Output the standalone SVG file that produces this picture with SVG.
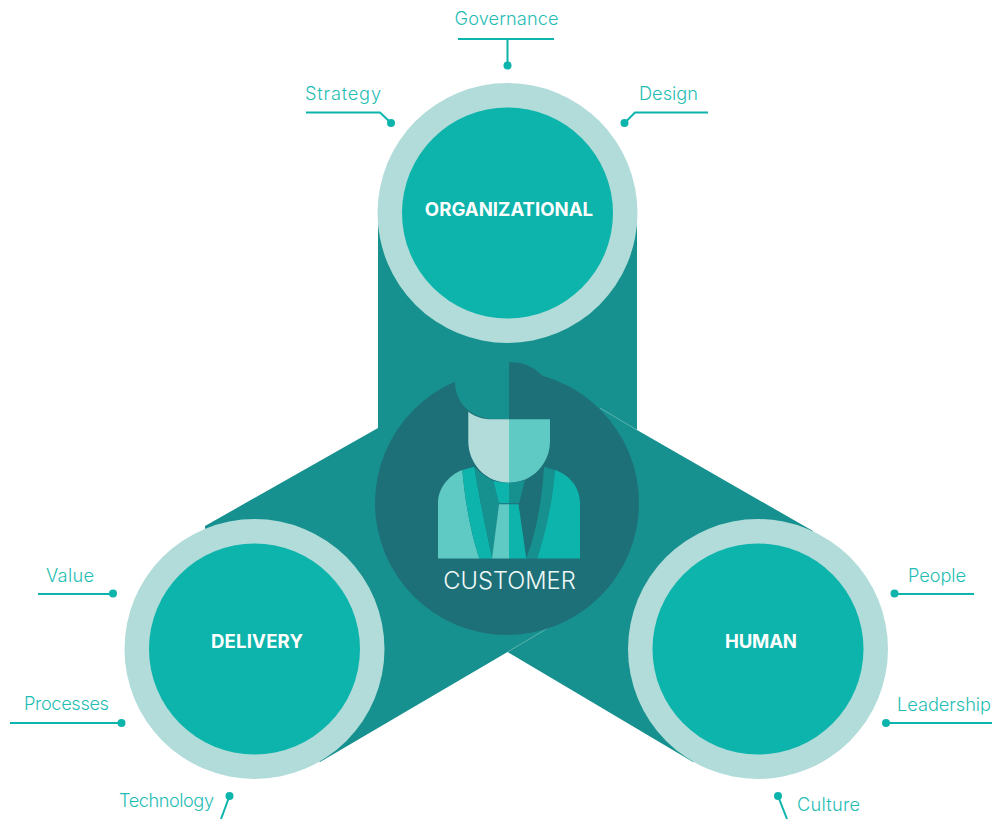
<svg xmlns="http://www.w3.org/2000/svg" width="992" height="819" viewBox="0 0 992 819">
<style>
.lbl{font-family:"Inter","Liberation Sans",sans-serif;font-weight:300;font-size:18.2px;fill:#1fbdb4;text-anchor:middle}
.hd{font-family:"Inter","Liberation Sans",sans-serif;font-weight:700;font-size:18.6px;fill:#fff;text-anchor:middle}
.cust{font-family:"Inter","Liberation Sans",sans-serif;font-weight:300;font-size:23.7px;fill:#eef8f7;text-anchor:middle}
.ln{fill:none;stroke:#0db4ac;stroke-width:2}
.dot{fill:#0db4ac}
.ring{fill:#b1dcd9}
.core{fill:#0db4ac}
</style>
<rect width="992" height="819" fill="#fff"/>
<g id="backdrop">
<path d="M378 213H637V430L813 531 823 640 693 762 507.500 652 320 762 210 640 205 526 378 428Z" fill="#16918f"/>
<path d="M600 408L637 430M507.500 652L548 628" stroke="#8cc8c6" stroke-width=".6" fill="none"/>
</g>
<g id="customer">
<circle cx="507" cy="503" r="132" fill="#1e7078"/>
<path d="M509 362.300A42 42 0 0 1 541.700 375Q550 383 550 392V419.300H509Z" fill="#1e7078"/>
<path d="M509 362V419.300H497C470 419.300 455 402 455 381.700V362Z" fill="#16918f"/>
<path d="M468.300 411.700C475 416.500 482 419.300 492 419.300H509V482.700C486 482.700 468.300 464 468.300 441Z" fill="#b1dcd9"/>
<path d="M509 419.300H550V441C550 464 532 482.700 509 482.700Z" fill="#5fc9c3"/>
<path d="M462.300 470C449 475 438 488 438 503V558.500H479.300C470 530 465 500 462.300 470Z" fill="#5fc9c3"/>
<path d="M462.300 470L474.300 466.700C478 490 485 525 492.300 558.500H479.300C470 530 465 500 462.300 470Z" fill="#0db4ac"/>
<path d="M474.300 466.700C480 473 486 477 493.300 480.700L499 503.300 492.300 558.500C485 525 478 490 474.300 466.700Z" fill="#16918f"/>
<path d="M493.300 480.700C498 482 503 482.700 509 482.700V503.300H499Z" fill="#0db4ac"/>
<path d="M509 482.700C514 482.700 520 482 525 480L519 503.300H509Z" fill="#16918f"/>
<path d="M499 504.300H509V558.500H492Z" fill="#5fc9c3"/>
<path d="M509 504.300H518.500L526.300 558.500H509Z" fill="#0db4ac"/>
<path d="M544 466.700L555 470C552 505 546 530 537.300 558.500H526.300C537 530 542 500 544 466.700Z" fill="#16918f"/>
<path d="M555 470C570 475 580 488 580 503V558.500H537.300C546 530 552 505 555 470Z" fill="#0db4ac"/>
<text class="cust" x="509.500" y="589">CUSTOMER</text>
</g>
<g id="organizational">
<circle class="ring" cx="507.500" cy="213" r="130"/>
<circle class="core" cx="507.500" cy="213" r="105.500"/>
<text class="hd" x="509" y="216">ORGANIZATIONAL</text>
</g>
<g id="delivery">
<circle class="ring" cx="254.500" cy="649" r="130"/>
<circle class="core" cx="254.500" cy="649" r="105.500"/>
<text class="hd" x="257" y="648" textLength="92">DELIVERY</text>
</g>
<g id="human">
<circle class="ring" cx="758" cy="649" r="130"/>
<circle class="core" cx="758" cy="649" r="105.500"/>
<text class="hd" x="761" y="648" textLength="72">HUMAN</text>
</g>
<g id="connectors">
<path class="ln" d="M458 39H554M507.500 39V65"/>
<path class="ln" d="M306 112.500H380L391 123"/>
<path class="ln" d="M708 112.500H635L624.500 123"/>
<path class="ln" d="M38 594H113"/>
<path class="ln" d="M10 723H121.500"/>
<path class="ln" d="M221 819L229.500 796"/>
<path class="ln" d="M974 594H895"/>
<path class="ln" d="M992 723H886"/>
<path class="ln" d="M787 819L778 796"/>
<circle class="dot" cx="507.500" cy="65.500" r="4"/>
<circle class="dot" cx="391" cy="123" r="4"/>
<circle class="dot" cx="624.500" cy="123" r="4"/>
<circle class="dot" cx="113" cy="593.500" r="4"/>
<circle class="dot" cx="121.500" cy="723" r="4"/>
<circle class="dot" cx="229.500" cy="796" r="4"/>
<circle class="dot" cx="894.500" cy="593.500" r="4"/>
<circle class="dot" cx="886" cy="723" r="4"/>
<circle class="dot" cx="778" cy="796" r="4"/>
</g>
<g id="labels">
<text class="lbl" x="506.500" y="24.500" textLength="104">Governance</text>
<text class="lbl" x="343" y="99.500" textLength="76">Strategy</text>
<text class="lbl" x="668.500" y="99.500" textLength="59">Design</text>
<text class="lbl" x="70" y="582" textLength="48">Value</text>
<text class="lbl" x="66.500" y="709.500" textLength="85">Processes</text>
<text class="lbl" x="166.500" y="806.500" textLength="95">Technology</text>
<text class="lbl" x="937" y="582" textLength="58">People</text>
<text class="lbl" x="944" y="710.500" textLength="94">Leadership</text>
<text class="lbl" x="828.500" y="810.500" textLength="63">Culture</text>
</g>
</svg>
